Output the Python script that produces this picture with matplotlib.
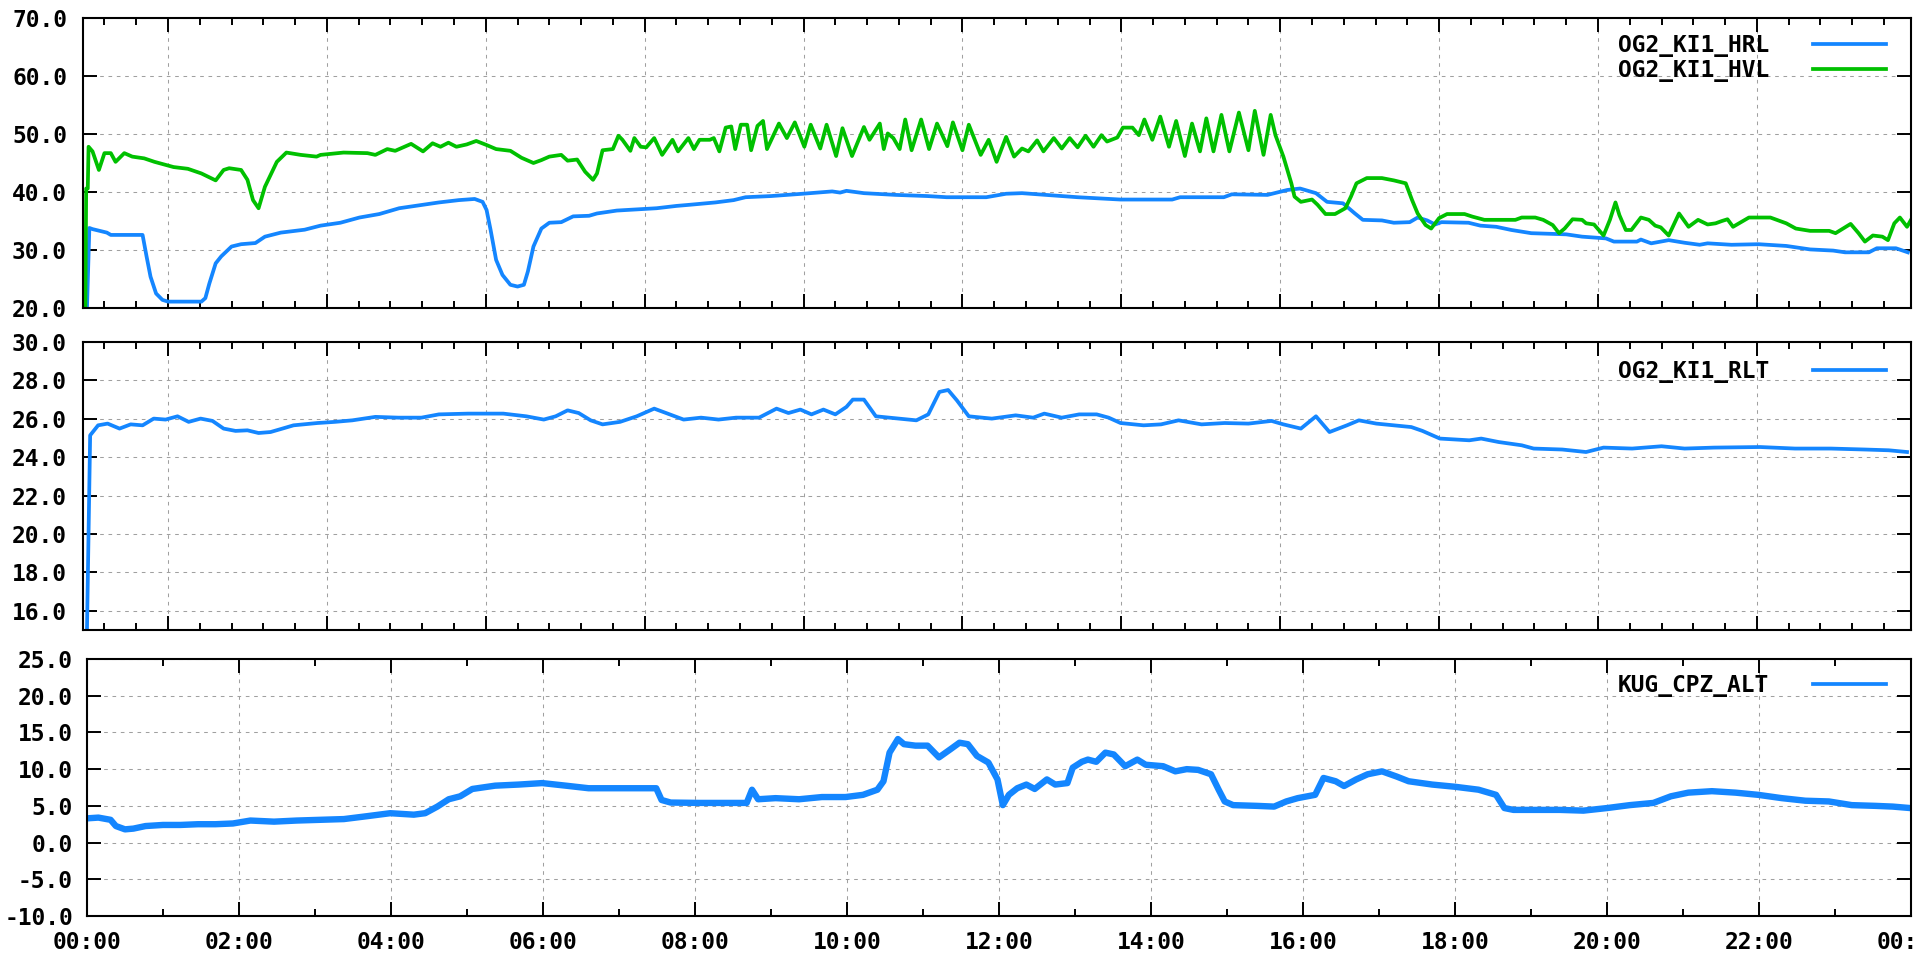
import matplotlib
matplotlib.use("Agg")
import matplotlib.pyplot as plt
from matplotlib.lines import Line2D
from matplotlib.ticker import MultipleLocator, FormatStrFormatter

plt.rcParams['font.family'] = ['DejaVu Sans Mono', 'DejaVu Sans']
plt.rcParams['font.weight'] = 'bold'
plt.rcParams['axes.unicode_minus'] = False

# --- data (time in hours of the day) ---
hrl_t = [0.98, 1.01, 1.05, 1.23, 1.28, 1.68, 1.73, 1.78, 1.85, 1.93,
         2.00, 2.42, 2.47, 2.52, 2.60, 2.67, 2.80, 2.92, 3.10, 3.22,
         3.42, 3.72, 3.92, 4.17, 4.41, 4.66, 4.91, 5.16, 5.41, 5.66,
         5.86, 5.96, 6.01, 6.06, 6.13, 6.21, 6.31, 6.40, 6.48, 6.53,
         6.60, 6.70, 6.80, 6.95, 7.10, 7.30, 7.40, 7.65, 7.90, 8.15,
         8.40, 8.57, 8.89, 9.12, 9.27, 9.59, 9.99, 10.36, 10.46, 10.54,
         10.76, 11.16, 11.56, 11.80, 12.30, 12.55, 12.75, 13.05, 13.45, 13.99,
         14.64, 14.74, 15.29, 15.39, 15.84, 16.09, 16.25, 16.35, 16.45, 16.59,
         16.79, 16.94, 17.04, 17.28, 17.43, 17.63, 17.73, 17.85, 17.95, 18.03,
         18.37, 18.52, 18.72, 18.91, 19.16, 19.60, 19.80, 20.10, 20.20, 20.49,
         20.54, 20.67, 20.89, 21.09, 21.28, 21.38, 21.68, 22.02, 22.37, 22.67,
         22.96, 23.11, 23.41, 23.51, 23.75, 23.90]
hrl_v = [20.0, 33.8, 33.6, 33.0, 32.6, 32.6, 28.9, 25.4, 22.5, 21.4,
         21.1, 21.1, 21.7, 24.2, 27.7, 28.9, 30.6, 31.0, 31.2, 32.3,
         33.0, 33.5, 34.2, 34.7, 35.6, 36.2, 37.2, 37.7, 38.2, 38.6,
         38.8, 38.3, 36.9, 33.5, 28.3, 25.7, 24.0, 23.7, 24.0, 26.3,
         30.6, 33.7, 34.7, 34.8, 35.8, 35.9, 36.3, 36.8, 37.0, 37.2,
         37.6, 37.8, 38.2, 38.6, 39.1, 39.3, 39.7, 40.1, 39.9, 40.2,
         39.8, 39.5, 39.3, 39.1, 39.1, 39.7, 39.8, 39.5, 39.1, 38.7,
         38.7, 39.1, 39.1, 39.6, 39.5, 40.35, 40.6, 40.2, 39.8, 38.3,
         38.05, 36.3, 35.2, 35.1, 34.7, 34.8, 35.6, 35.1, 34.4, 34.8,
         34.7, 34.2, 34.0, 33.45, 32.9, 32.7, 32.3, 32.0, 31.45, 31.45,
         31.8, 31.15, 31.7, 31.25, 30.9, 31.15, 30.9, 31.0, 30.7, 30.1,
         29.9, 29.6, 29.6, 30.3, 30.3, 29.6]

hvl_t = [0.96, 0.97, 0.99, 1.00, 1.05, 1.13, 1.20, 1.28, 1.34, 1.45,
         1.55, 1.70, 1.83, 2.07, 2.25, 2.42, 2.60, 2.70, 2.77, 2.92,
         3.00, 3.07, 3.14, 3.22, 3.37, 3.49, 3.67, 3.87, 3.92, 4.21,
         4.51, 4.61, 4.76, 4.86, 5.06, 5.21, 5.33, 5.43, 5.53, 5.63,
         5.76, 5.88, 6.01, 6.13, 6.31, 6.45, 6.60, 6.70, 6.80, 6.95,
         7.03, 7.15, 7.25, 7.35, 7.40, 7.47, 7.60, 7.67, 7.72, 7.82,
         7.87, 7.95, 8.02, 8.12, 8.22, 8.35, 8.42, 8.55,
         8.62, 8.69, 8.82, 8.87, 8.94, 9.02, 9.09, 9.14, 9.21, 9.29,
         9.34, 9.42, 9.49, 9.54, 9.69, 9.79, 9.89, 10.01, 10.09, 10.21,
         10.29, 10.41, 10.49, 10.61, 10.76, 10.83, 10.96, 11.01, 11.06, 11.13,
         11.21, 11.28, 11.36, 11.48, 11.58, 11.68, 11.81, 11.88, 12.00, 12.08,
         12.23, 12.33, 12.43, 12.55, 12.65, 12.75, 12.83, 12.94, 13.02, 13.15,
         13.25, 13.35, 13.45, 13.55, 13.65, 13.75, 13.82, 13.95, 14.02, 14.14,
         14.22, 14.29, 14.39, 14.49, 14.60, 14.69, 14.80, 14.89, 14.99, 15.07,
         15.16, 15.26, 15.36, 15.48, 15.60, 15.68, 15.79, 15.88, 15.94, 16.04,
         16.14, 16.18, 16.26,
         16.40, 16.47, 16.57, 16.69, 16.82, 16.89, 16.96, 17.09, 17.28, 17.43,
         17.58, 17.66, 17.73, 17.83, 17.90, 18.00, 18.10, 18.32, 18.42, 18.57,
         18.96, 19.04, 19.21, 19.31, 19.43, 19.51, 19.58, 19.68, 19.80, 19.85,
         19.95, 20.07, 20.15, 20.22, 20.27, 20.35, 20.42, 20.54, 20.64, 20.72,
         20.79, 20.89, 21.02, 21.14, 21.26, 21.38, 21.48, 21.56, 21.63, 21.70,
         21.90, 22.17, 22.37, 22.49, 22.67, 22.91, 22.99, 23.18, 23.28, 23.36,
         23.46, 23.58, 23.65, 23.73, 23.80, 23.89, 23.94]
hvl_v = [20.0, 40.6, 40.6, 47.8, 47.0, 43.8, 46.7, 46.7, 45.2, 46.7,
         46.1, 45.8, 45.2, 44.3, 44.0, 43.2, 42.0, 43.8, 44.1, 43.8,
         42.1, 38.6, 37.2, 40.9, 45.2, 46.8, 46.4, 46.1, 46.4, 46.8,
         46.7, 46.4, 47.4, 47.1, 48.3, 47.0, 48.4, 47.8, 48.5, 47.8,
         48.2, 48.8, 48.1, 47.4, 47.1, 45.9, 45.0, 45.5, 46.1, 46.4,
         45.4, 45.6, 43.5, 42.1, 43.2, 47.2, 47.4, 49.7, 49.0, 47.1,
         49.3, 47.8, 47.7, 49.3, 46.4, 49.0, 47.0, 49.3,
         47.4, 49.0, 49.0, 49.3, 47.0, 51.1, 51.3, 47.4, 51.6, 51.6,
         47.2, 51.4, 52.25, 47.4, 51.8, 49.3, 52.0, 47.8, 51.6, 47.5,
         51.6, 46.2, 51.0, 46.2, 51.2, 49.0, 51.8, 47.4, 50.1, 49.3,
         47.4, 52.5, 47.2, 52.5, 47.4, 51.8, 47.9, 52.0, 47.2, 51.6,
         46.4, 49.0, 45.2, 49.5, 46.1, 47.5, 47.0, 48.9, 47.0, 49.3,
         47.5, 49.3, 47.7, 49.7, 47.8, 49.8, 48.7, 49.4, 51.1, 51.1,
         49.8, 52.5, 49.0, 53.0, 47.8, 52.25, 46.2, 51.8, 47.0, 52.7,
         47.0, 53.3, 47.0, 53.7, 47.2, 54.0, 46.4, 53.3, 49.8, 46.1,
         41.5, 39.2, 38.3,
         38.7, 37.8, 36.2, 36.2, 37.2, 39.2, 41.5, 42.4, 42.4, 42.0,
         41.5, 38.6, 36.3, 34.3, 33.7, 35.5, 36.2, 36.2, 35.75, 35.2,
         35.2, 35.6, 35.6, 35.2, 34.3, 32.9, 33.7, 35.3, 35.2, 34.6,
         34.4, 32.5, 35.2, 38.2, 36.0, 33.45, 33.45, 35.6, 35.2, 34.2,
         33.9, 32.5, 36.3, 34.0, 35.2, 34.4, 34.6, 35.0, 35.3, 34.0,
         35.6, 35.6, 34.6, 33.7, 33.3, 33.3, 32.9, 34.5, 32.9, 31.45,
         32.5, 32.3, 31.7, 34.6, 35.6, 34.0, 35.2]

rlt_t = [0.98, 1.02, 1.12, 1.24, 1.39, 1.53, 1.68, 1.82, 1.97, 2.12,
         2.26, 2.41, 2.56, 2.70, 2.85, 3.00, 3.14, 3.29, 3.44, 3.58,
         3.88, 4.10, 4.32, 4.61, 4.90, 5.19, 5.41, 5.78, 6.22, 6.51,
         6.73, 6.88, 7.03, 7.17, 7.32, 7.47, 7.69, 7.90, 8.12, 8.27,
         8.49, 8.71, 8.93, 9.15, 9.44, 9.66, 9.81, 9.96, 10.10, 10.25,
         10.40, 10.54, 10.62, 10.76, 10.91, 11.20, 11.42, 11.57, 11.71, 11.82,
         11.93, 12.08, 12.37, 12.67, 12.89, 13.03, 13.25, 13.47, 13.69, 13.84,
         13.99, 14.28, 14.50, 14.72, 15.01, 15.30, 15.60, 15.89, 16.04, 16.26,
         16.45, 16.62, 16.84, 16.99, 17.21, 17.43, 17.65, 17.79, 18.01, 18.38,
         18.53, 18.75, 19.04, 19.19, 19.55, 19.85, 20.07, 20.43, 20.80, 21.09,
         21.46, 22.04, 22.48, 22.93, 23.36, 23.66, 23.89]
rlt_v = [15.0, 25.14, 25.66, 25.75, 25.49, 25.71, 25.66, 26.01, 25.96, 26.13,
         25.84, 26.01, 25.89, 25.49, 25.37, 25.40, 25.26, 25.31, 25.49, 25.66,
         25.78, 25.84, 25.92, 26.10, 26.06, 26.06, 26.23, 26.27, 26.27, 26.13,
         25.96, 26.13, 26.44, 26.30, 25.92, 25.71, 25.84, 26.13, 26.53, 26.30,
         25.96, 26.06, 25.96, 26.06, 26.06, 26.53, 26.30, 26.48, 26.23, 26.48,
         26.23, 26.62, 27.0, 27.0, 26.13, 26.01, 25.92, 26.23, 27.4, 27.5,
         26.96, 26.13, 26.01, 26.18, 26.06, 26.27, 26.06, 26.23, 26.23, 26.06,
         25.78, 25.66, 25.71, 25.92, 25.71, 25.78, 25.75, 25.89, 25.71, 25.49,
         26.13, 25.31, 25.66, 25.92, 25.75, 25.66, 25.57, 25.37, 24.97, 24.88,
         24.97, 24.79, 24.62, 24.45, 24.40, 24.27, 24.50, 24.45, 24.57, 24.45,
         24.50, 24.53, 24.45, 24.45, 24.40, 24.36, 24.27]

alt_t = [0.00, 0.15, 0.31, 0.38, 0.50, 0.61, 0.77, 1.00, 1.23, 1.46,
         1.69, 1.92, 2.15, 2.46, 2.76, 3.07, 3.38, 3.69, 3.99, 4.30,
         4.45, 4.61, 4.76, 4.91, 5.07, 5.37, 5.68, 5.99, 6.30, 6.60,
         6.91, 7.22, 7.49, 7.56, 7.68, 8.06, 8.45, 8.68, 8.75, 8.83,
         9.06, 9.37, 9.67, 9.98, 10.21, 10.40, 10.48, 10.56, 10.67, 10.75,
         10.90, 11.06, 11.21, 11.36, 11.48, 11.59, 11.71, 11.86, 11.98, 12.05,
         12.13, 12.24, 12.36, 12.47, 12.63, 12.74, 12.90, 12.97, 13.09, 13.17,
         13.28, 13.40, 13.51, 13.66, 13.82, 13.93, 14.16, 14.32, 14.47, 14.62,
         14.79, 14.89, 14.97, 15.08, 15.39, 15.62, 15.78, 15.93, 16.16, 16.27,
         16.43, 16.54, 16.70, 16.85, 17.04, 17.23, 17.39, 17.70, 18.00, 18.31,
         18.54, 18.65, 18.77, 19.08, 19.38, 19.69, 20.00, 20.30, 20.61, 20.84,
         21.07, 21.38, 21.69, 21.99, 22.30, 22.61, 22.92, 23.22, 23.53, 23.76,
         23.99]
alt_v = [3.3, 3.4, 3.1, 2.25, 1.8, 1.9, 2.25, 2.4, 2.4, 2.5,
         2.5, 2.6, 3.0, 2.85, 3.0, 3.1, 3.2, 3.6, 4.0, 3.8,
         4.0, 4.9, 5.9, 6.3, 7.3, 7.75, 7.9, 8.1, 7.75, 7.4,
         7.4, 7.4, 7.4, 5.8, 5.45, 5.4, 5.4, 5.4, 7.2, 5.9,
         6.05, 5.9, 6.2, 6.2, 6.5, 7.2, 8.35, 12.25, 14.1, 13.4,
         13.2, 13.2, 11.6, 12.7, 13.6, 13.4, 11.8, 10.9, 8.6, 5.1,
         6.5, 7.4, 7.9, 7.3, 8.6, 7.9, 8.1, 10.2, 11.0, 11.3,
         11.0, 12.25, 12.0, 10.4, 11.3, 10.6, 10.4, 9.7, 10.0, 9.9,
         9.3, 7.2, 5.6, 5.1, 5.0, 4.9, 5.6, 6.05, 6.5, 8.8,
         8.35, 7.7, 8.6, 9.3, 9.7, 9.0, 8.35, 7.9, 7.6, 7.2,
         6.5, 4.7, 4.45, 4.45, 4.45, 4.35, 4.7, 5.1, 5.4, 6.3,
         6.8, 7.0, 6.8, 6.5, 6.05, 5.7, 5.6, 5.1, 5.0, 4.9,
         4.7]

x_labels = ['00:00', '02:00', '04:00', '06:00', '08:00', '10:00', '12:00',
            '14:00', '16:00', '18:00', '20:00', '22:00', '00:00']

BLUE = '#1486ff'
GREEN = '#00c000'
GRID = '#a0a0a0'
FS = 16.5

fig = plt.figure(figsize=(19.15, 9.57), dpi=100)
W, H = 1915.0, 957.0

def box(left, top, right, bottom):
    return [left / W, 1 - bottom / H, (right - left) / W, (bottom - top) / H]

ax1 = fig.add_axes(box(83, 18, 1911, 308))
ax2 = fig.add_axes(box(83, 342, 1911, 630))
ax3 = fig.add_axes(box(87, 659, 1911, 916))

def style(ax, pad):
    for s in ax.spines.values():
        s.set_linewidth(1.5)
    ax.tick_params(which='both', direction='in', top=True, right=True,
                   width=1.4, labelsize=FS)
    ax.tick_params(which='major', length=10)
    ax.tick_params(which='minor', length=5)
    ax.tick_params(axis='y', which='minor', left=False, right=False)
    ax.tick_params(axis='y', pad=pad)
    ax.yaxis.set_major_formatter(FormatStrFormatter('%.1f'))
    ax.grid(True, which='major', color=GRID, linewidth=0.75,
            linestyle=(0, (3.5, 4.5)))
    ax.set_axisbelow(True)

def legend(ax, handles, labels, ytop):
    ax.legend(handles, labels, loc='upper right', bbox_to_anchor=(0.9863, ytop),
              frameon=False, markerfirst=False, borderaxespad=0, borderpad=0,
              handlelength=3.2, handletextpad=1.9, labelspacing=0.08,
              prop={'size': FS, 'weight': 'bold', 'family': 'DejaVu Sans Mono'})

# top panel
ax1.plot(hrl_t, hrl_v, color=BLUE, lw=2.7)
ax1.plot(hvl_t, hvl_v, color=GREEN, lw=2.7)
ax1.set_xlim(0.93, 23.94)
ax1.set_ylim(20, 70)
ax1.yaxis.set_major_locator(MultipleLocator(10))

# middle panel
ax2.plot(rlt_t, rlt_v, color=BLUE, lw=2.7)
ax2.set_xlim(0.93, 23.94)
ax2.set_ylim(15, 30)
ax2.yaxis.set_major_locator(MultipleLocator(2))

for ax in (ax1, ax2):
    ax.xaxis.set_major_locator(MultipleLocator(2))
    ax.xaxis.set_minor_locator(MultipleLocator(0.4))
    style(ax, 11.5)
    ax.tick_params(axis='x', labelbottom=False)

# bottom panel
ax3.plot(alt_t, alt_v, color=BLUE, lw=4.6, solid_joinstyle='round')
ax3.set_xlim(0, 24)
ax3.set_ylim(-10, 25)
ax3.yaxis.set_major_locator(MultipleLocator(5))
ax3.set_xticks(range(0, 25, 2))
ax3.set_xticklabels(x_labels)
ax3.xaxis.set_minor_locator(MultipleLocator(1))
style(ax3, 10)
ax3.tick_params(axis='x', pad=11)

legend(ax1, [Line2D([], [], color=BLUE, lw=2.7), Line2D([], [], color=GREEN, lw=2.7)],
       ['OG2_KI1_HRL', 'OG2_KI1_HVL'], 0.945)
legend(ax2, [Line2D([], [], color=BLUE, lw=2.7)], ['OG2_KI1_RLT'], 0.938)
legend(ax3, [Line2D([], [], color=BLUE, lw=2.7)], ['KUG_CPZ_ALT'], 0.942)

fig.savefig('out.png', dpi=100)
